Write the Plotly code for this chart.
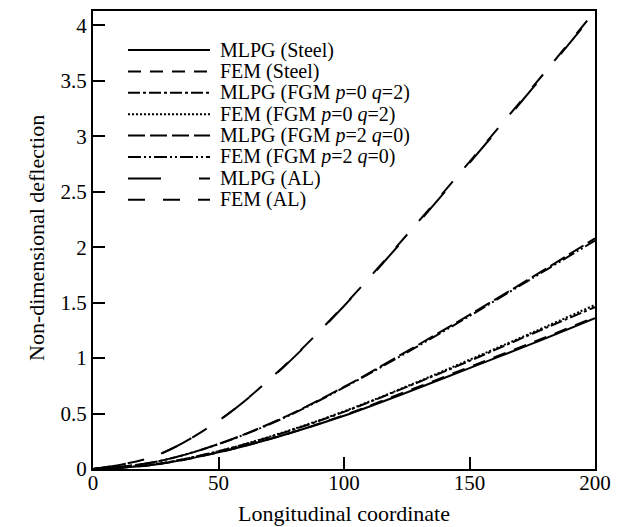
import plotly.graph_objects as go

# Longitudinal stations
x_coord = [0, 25, 50, 75, 100, 125, 150, 175, 200]

# Non-dimensional deflection along the beam
mlpg_steel = [0, 0.04, 0.15, 0.30, 0.48, 0.69, 0.91, 1.13, 1.36]
fem_steel = [0, 0.04, 0.15, 0.30, 0.485, 0.70, 0.92, 1.14, 1.37]
mlpg_fgm_p0q2 = [0, 0.045, 0.16, 0.32, 0.515, 0.74, 0.975, 1.22, 1.46]
fem_fgm_p0q2 = [0, 0.045, 0.16, 0.325, 0.52, 0.745, 0.985, 1.23, 1.48]
mlpg_fgm_p2q0 = [0, 0.065, 0.225, 0.455, 0.74, 1.06, 1.39, 1.73, 2.08]
fem_fgm_p2q0 = [0, 0.065, 0.225, 0.45, 0.735, 1.05, 1.38, 1.72, 2.06]
mlpg_al = [0, 0.12, 0.435, 0.90, 1.47, 2.10, 2.76, 3.43, 4.12]
fem_al = [0, 0.12, 0.435, 0.905, 1.475, 2.11, 2.77, 3.44, 4.13]

series_names = [
    "MLPG (Steel)",
    "FEM (Steel)",
    "MLPG (FGM <i>p</i>=0 <i>q</i>=2)",
    "FEM (FGM <i>p</i>=0 <i>q</i>=2)",
    "MLPG (FGM <i>p</i>=2 <i>q</i>=0)",
    "FEM (FGM <i>p</i>=2 <i>q</i>=0)",
    "MLPG (AL)",
    "FEM (AL)",
]
series_values = [
    mlpg_steel, fem_steel, mlpg_fgm_p0q2, fem_fgm_p0q2,
    mlpg_fgm_p2q0, fem_fgm_p2q0, mlpg_al, fem_al,
]

x_ticks = [0, 50, 100, 150, 200]
y_ticks = [0, 0.5, 1, 1.5, 2, 2.5, 3, 3.5, 4]
x_title = "Longitudinal coordinate"
y_title = "Non-dimensional deflection"

dashes = [
    "solid",
    "13px,9px",
    "12px,3px,3px,3px",
    "2px,2px",
    "17px,5px",
    "13px,3px,2px,3px,2px,3px",
    "33px,38px",
    "17px,18px",
]

FONT = "Liberation Serif, Times New Roman, serif"
W, H = 620, 527
L, R, T, B = 93, 25, 11, 58
PW, PH = W - L - R, H - T - B


def px_x(px):
    return (px - L) / PW


def px_y(py):
    return (H - B - py) / PH


fig = go.Figure()
for name, vals, dash in zip(series_names, series_values, dashes):
    fig.add_trace(go.Scatter(
        x=x_coord, y=vals, mode="lines", name=name,
        line=dict(color="black", width=2, dash=dash, shape="spline"),
        showlegend=False,
    ))

# Key in the upper-left corner of the plot area
row0, row_step = 50, 21.4
for i, (name, dash) in enumerate(zip(series_names, dashes)):
    yy = row0 + i * row_step
    fig.add_shape(type="line", xref="paper", yref="paper",
                  x0=px_x(128), x1=px_x(210), y0=px_y(yy), y1=px_y(yy),
                  line=dict(color="black", width=2, dash=dash))
    fig.add_annotation(xref="paper", yref="paper",
                       x=px_x(219), y=px_y(yy), height=21, borderpad=0,
                       xanchor="left", yanchor="middle", showarrow=False,
                       text=name, font=dict(family=FONT, size=20, color="black"))

# Axis titles
fig.add_annotation(xref="paper", yref="paper", x=px_x(344), y=px_y(513),
                   xanchor="center", yanchor="middle", showarrow=False,
                   text=x_title, font=dict(family=FONT, size=22, color="black"))
fig.add_annotation(xref="paper", yref="paper", x=px_x(36), y=px_y(238),
                   xanchor="center", yanchor="middle", showarrow=False,
                   textangle=-90,
                   text=y_title, font=dict(family=FONT, size=22, color="black"))

axis_common = dict(
    showgrid=False, zeroline=False, showline=True, linecolor="black",
    linewidth=2, mirror=True, ticks="inside", ticklen=12, tickwidth=2,
    tickcolor="black", tickfont=dict(family=FONT, size=21, color="black"),
    automargin=False,
)

fig.update_xaxes(range=[0, 200], tickvals=x_ticks, ticklabelstandoff=-6,
                 **axis_common)
fig.update_yaxes(range=[0, 4.13], tickvals=y_ticks, **axis_common)

fig.update_layout(
    width=W, height=H,
    margin=dict(l=L, r=R, t=T, b=B),
    paper_bgcolor="white", plot_bgcolor="white",
    font=dict(family=FONT, size=22, color="black"),
)

fig.write_html("out.html")
